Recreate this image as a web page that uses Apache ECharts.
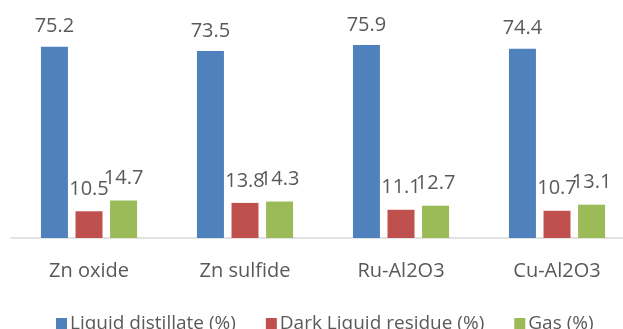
<!DOCTYPE html>
<html>
<head>
<meta charset="utf-8">
<script src="https://cdn.jsdelivr.net/npm/echarts@6/dist/echarts.min.js"></script>
<style>
  html, body { margin: 0; padding: 0; background: #fff; overflow: hidden; }
  #chart { width: 636px; height: 329px; }
</style>
</head>
<body>
<div id="chart"></div>
<script>
// Product distribution per catalyst
var categories = ['Zn oxide', 'Zn sulfide', 'Ru-Al2O3', 'Cu-Al2O3'];
var liquidDistillate = [75.2, 73.5, 75.9, 74.4];
var darkLiquidResidue = [10.5, 13.8, 11.1, 10.7];
var gas = [14.7, 14.3, 12.7, 13.1];
var seriesNames = ['Liquid distillate (%)', 'Dark Liquid residue (%)', 'Gas (%)'];

var FONT = '"Open Sans", "Noto Sans", sans-serif';
var TEXT = '#595959';

function barSeries(name, data, color, dist) {
  return {
    name: name,
    type: 'bar',
    data: data,
    barWidth: 27,
    barGap: '28%',
    itemStyle: { color: color },
    label: {
      show: true,
      position: 'top',
      distance: dist,
      color: TEXT,
      fontFamily: FONT,
      fontSize: 20
    }
  };
}

var chart = echarts.init(document.getElementById('chart'), null, { renderer: 'canvas' });
chart.setOption({
  animation: false,
  textStyle: { fontFamily: FONT },
  grid: { left: 11, right: 1, top: 34.5, bottom: 91, containLabel: false },
  legend: {
    top: 309,
    left: 51,
    itemWidth: 11,
    itemHeight: 11,
    itemGap: 30,
    icon: 'rect',
    textStyle: { color: TEXT, fontFamily: FONT, fontSize: 19, padding: [0, 0, 0, -2] },
    data: seriesNames
  },
  xAxis: {
    type: 'category',
    data: categories,
    axisLine: { lineStyle: { color: '#D9D9D9', width: 1.5 } },
    axisTick: { show: false },
    axisLabel: { color: TEXT, fontFamily: FONT, fontSize: 20, margin: 23 }
  },
  yAxis: {
    type: 'value',
    min: 0,
    max: 80,
    interval: 10,
    show: false,
    splitLine: { show: false }
  },
  series: [
    barSeries(seriesNames[0], liquidDistillate, '#4F81BD', 10),
    barSeries(seriesNames[1], darkLiquidResidue, '#C0504D', 12),
    barSeries(seriesNames[2], gas, '#9BBB59', 12)
  ]
});
</script>
</body>
</html>
